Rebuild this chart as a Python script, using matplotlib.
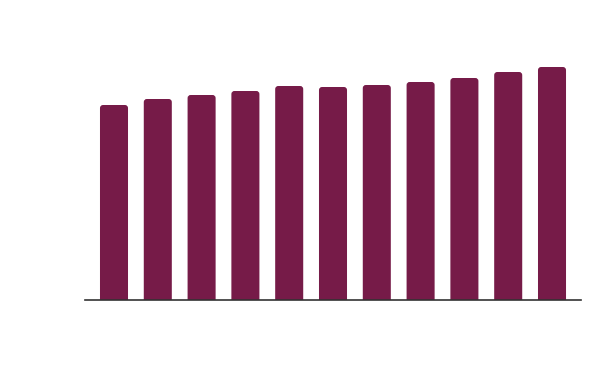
import matplotlib
matplotlib.use("Agg")
import matplotlib.pyplot as plt
from matplotlib.patches import FancyBboxPatch

categories = list(range(1, 12))
values = [195, 201, 205, 209, 214, 213, 215, 218, 222, 228, 233]

fig = plt.figure(figsize=(6, 3.71), dpi=100)
top_px, bottom_px = 20, 300
ax = fig.add_axes([85/600, 1 - bottom_px/371, 496/600, (bottom_px - top_px)/371])
x = list(range(len(categories)))
bars = ax.bar(x, values, width=0.64, color="#761b48")

ax.set_xlim(-0.662, len(categories) - 1 + 0.662)
ax.set_ylim(0, bottom_px - top_px)

# Round the top corners: replace each bar with a rounded patch extending below the baseline
aspect = 43.8  # y-units per x-unit for equal pixels
for b in bars:
    bx, by, bw, bh = b.get_x(), b.get_y(), b.get_width(), b.get_height()
    b.set_visible(False)
    p = FancyBboxPatch((bx, by - 8), bw, bh + 8,
                       boxstyle="round,pad=0,rounding_size=0.07",
                       mutation_aspect=aspect, facecolor="#761b48",
                       edgecolor="none", clip_on=True)
    ax.add_patch(p)
    p.set_clip_path(ax.patch)

for s in ["top", "right", "left"]:
    ax.spines[s].set_visible(False)
ax.spines["bottom"].set_color("#333333")
ax.spines["bottom"].set_linewidth(1.2)
ax.spines["bottom"].set_zorder(5)
ax.set_xticks([])
ax.set_yticks([])
fig.savefig("out.png", dpi=100)
